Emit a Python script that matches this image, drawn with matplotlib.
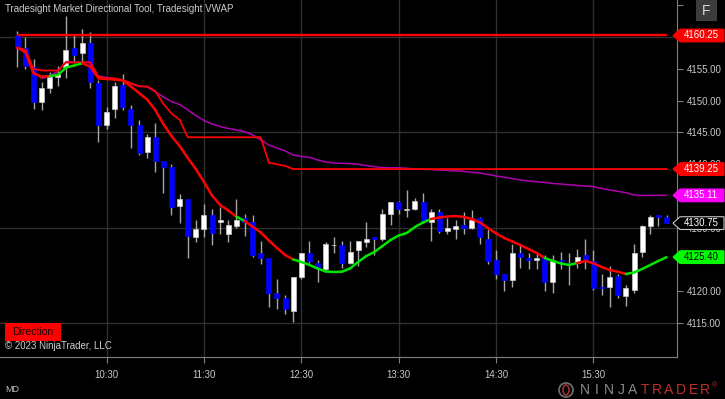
import numpy as np
import pandas as pd
import matplotlib
matplotlib.use("Agg")
import matplotlib.pyplot as plt
import matplotlib.transforms as mtransforms
from matplotlib.collections import LineCollection
from matplotlib.patches import Polygon, Rectangle, Ellipse

plt.rcParams['font.family'] = ['Liberation Sans', 'DejaVu Sans']

# ---------------- data (5 minute bars, 09:35 .. 16:15) ----------------
bar_times = pd.date_range("2023-01-01 09:35", "2023-01-01 16:15", freq="5min").strftime("%H:%M").tolist()
time_ticks = ["10:30", "11:30", "12:30", "13:30", "14:30", "15:30"]

opens = [4160.25, 4158.25, 4155.25, 4149.75, 4152.0, 4153.75, 4155.25, 4158.25, 4157.5, 4159.0,
         4152.75, 4146.25, 4148.75, 4152.5, 4148.75, 4146.25, 4142.0, 4144.25, 4140.5, 4139.5,
         4133.5, 4134.5, 4128.5, 4129.75, 4132.0, 4131.0, 4129.0, 4130.25, 4131.5, 4131.0,
         4126.0, 4125.25, 4119.75, 4119.0, 4117.0, 4122.25, 4126.0, 4124.5, 4123.5, 4127.25,
         4127.25, 4124.5, 4126.5, 4127.75, 4128.5, 4128.25, 4132.25, 4134.0, 4132.75, 4133.0,
         4134.0, 4131.0, 4132.5, 4129.5, 4129.75, 4130.5, 4130.0, 4131.5, 4128.25, 4125.0,
         4122.75, 4121.75, 4126.0, 4125.25, 4125.0, 4125.25, 4121.5, 4125.0, 4124.5, 4124.5,
         4125.75, 4124.75, 4120.75, 4120.75, 4122.5, 4119.25, 4120.25, 4126.25, 4130.25, 4132.0,
         4131.75]
highs = [4161.0, 4160.0, 4156.5, 4153.0, 4154.5, 4155.5, 4163.25, 4160.25, 4161.25, 4160.75,
         4153.25, 4149.0, 4153.0, 4154.25, 4149.25, 4147.0, 4144.75, 4146.5, 4140.5, 4140.0,
         4135.25, 4134.5, 4131.25, 4133.75, 4133.0, 4133.25, 4131.25, 4134.5, 4132.25, 4132.0,
         4128.0, 4125.25, 4122.0, 4119.5, 4122.25, 4126.0, 4128.0, 4125.0, 4127.75, 4128.5,
         4128.0, 4128.0, 4128.0, 4131.0, 4128.5, 4133.0, 4134.0, 4134.25, 4136.0, 4134.75,
         4135.5, 4133.0, 4133.0, 4131.5, 4131.25, 4132.5, 4132.75, 4131.75, 4129.75, 4126.5,
         4122.75, 4127.5, 4127.25, 4126.0, 4126.25, 4125.75, 4125.75, 4126.25, 4126.0, 4126.75,
         4128.25, 4126.5, 4122.75, 4124.0, 4122.75, 4121.0, 4127.5, 4130.5, 4132.0, 4132.0,
         4132.0]
lows = [4155.25, 4155.0, 4148.75, 4148.5, 4151.25, 4152.25, 4153.5, 4156.0, 4156.0, 4152.0,
        4143.5, 4145.5, 4147.25, 4148.5, 4142.5, 4141.5, 4141.0, 4138.75, 4135.5, 4132.0,
        4130.75, 4125.25, 4127.75, 4128.5, 4127.25, 4129.0, 4127.75, 4130.0, 4128.75, 4125.5,
        4124.25, 4117.5, 4117.25, 4116.5, 4115.25, 4122.0, 4124.5, 4121.5, 4123.25, 4126.0,
        4123.75, 4124.25, 4124.0, 4127.0, 4125.75, 4128.0, 4130.5, 4132.25, 4131.75, 4132.75,
        4130.75, 4128.0, 4129.25, 4129.0, 4128.25, 4129.0, 4129.75, 4127.5, 4124.25, 4122.0,
        4120.0, 4120.75, 4123.75, 4123.5, 4123.5, 4120.0, 4119.75, 4123.5, 4121.0, 4123.75,
        4123.5, 4120.25, 4119.5, 4117.5, 4119.0, 4117.75, 4119.75, 4125.5, 4129.0, 4130.25,
        4130.75]
closes = [4158.25, 4155.5, 4149.75, 4152.0, 4153.75, 4154.25, 4158.0, 4157.25, 4159.0, 4153.0,
          4146.25, 4148.25, 4152.25, 4149.0, 4146.25, 4141.75, 4144.25, 4140.5, 4139.5, 4133.25,
          4134.5, 4128.75, 4129.75, 4132.0, 4129.25, 4131.25, 4130.5, 4131.25, 4131.0, 4125.75,
          4125.25, 4119.75, 4119.0, 4117.25, 4122.25, 4126.0, 4124.75, 4123.75, 4127.5, 4127.25,
          4124.5, 4126.25, 4128.0, 4128.25, 4128.25, 4132.25, 4134.0, 4133.0, 4133.0, 4134.25,
          4131.0, 4132.5, 4129.5, 4130.0, 4130.25, 4130.0, 4131.25, 4128.5, 4124.75, 4122.75,
          4121.75, 4126.0, 4125.5, 4125.0, 4125.25, 4121.5, 4125.0, 4124.75, 4124.25, 4125.5,
          4124.75, 4120.5, 4120.5, 4122.25, 4119.5, 4120.5, 4126.0, 4130.25, 4131.75, 4131.75,
          4130.75]

# Tradesight directional line and its trend state (1 = up / green, -1 = down / red)
direction_line = [4158.33, 4157.70, 4154.31, 4153.77, 4153.88, 4154.04, 4155.19, 4155.53, 4155.88, 4155.34,
                  4153.52, 4153.41, 4153.33, 4153.17, 4152.23, 4151.21, 4150.19, 4148.54, 4146.34, 4144.45,
                  4142.88, 4140.99, 4139.26, 4137.22, 4135.09, 4133.60, 4132.74, 4131.76, 4131.08, 4130.19,
                  4129.28, 4128.02, 4126.84, 4125.74, 4125.03, 4124.64, 4124.17, 4123.62, 4123.14, 4123.07,
                  4123.11, 4123.62, 4124.64, 4125.58, 4126.21, 4127.15, 4128.10, 4128.80, 4129.20, 4130.14,
                  4130.85, 4131.40, 4131.63, 4131.79, 4131.87, 4131.71, 4131.40, 4130.85, 4129.98, 4129.12,
                  4128.41, 4127.86, 4127.31, 4126.68, 4126.05, 4125.27, 4124.80, 4124.40, 4124.17, 4124.48,
                  4124.80, 4124.43, 4123.85, 4123.38, 4123.11, 4122.75, 4122.99, 4123.54, 4124.17, 4124.80,
                  4125.40]
trend = ([-1, -1, -1, -1, -1, 1, 1, 1, 1, -1]
         + [-1] * 10
         + [-1] * 8 + [1, -1]
         + [-1] * 5 + [1] * 5
         + [1] * 10
         + [1, 1] + [-1] * 8
         + [-1] * 6 + [1] * 4
         + [-1] * 6 + [1] * 4
         + [1])

stop_line = ([4158.33, 4158.0, 4155.0, 4154.75, 4154.75, 4154.75, 4156.0, 4156.0, 4156.0, 4156.0,
              4153.75, 4153.5, 4153.5, 4153.25, 4152.75, 4152.25, 4152.25, 4151.5, 4149.5, 4148.0,
              4147.0] + [4144.25] * 10 + [4140.25, 4140.0, 4139.75] + [4139.25] * 47)

vwap = [4158.33, 4157.45, 4154.56, 4153.52, 4153.93, 4154.56, 4156.13, 4156.08, 4156.04, 4156.04,
        4153.88, 4153.65, 4153.49, 4153.25, 4152.63, 4152.31, 4152.15, 4151.41, 4150.58, 4149.87,
        4149.40, 4148.54, 4147.67, 4146.89, 4146.34, 4145.94, 4145.63, 4145.39, 4145.16, 4144.61,
        4143.82, 4143.03, 4142.56, 4142.09, 4141.46, 4141.23, 4141.10, 4140.68, 4140.36, 4140.20,
        4140.16, 4140.09, 4140.00, 4139.81, 4139.61, 4139.50, 4139.46, 4139.45, 4139.37, 4139.26,
        4139.21, 4139.18, 4139.10, 4139.05, 4138.99, 4138.87, 4138.74, 4138.63, 4138.40, 4138.16,
        4137.96, 4137.77, 4137.53, 4137.37, 4137.26, 4137.14, 4136.98, 4136.90, 4136.78, 4136.67,
        4136.59, 4136.48, 4136.19, 4135.96, 4135.75, 4135.53, 4135.17, 4135.09, 4135.11, 4135.11,
        4135.11]

open_level = 4160.25
price_ticks = [4115.0, 4120.0, 4125.0, 4130.0, 4135.0, 4140.0, 4145.0, 4150.0, 4155.0, 4160.0, 4165.0]
hidden_ticks = [4125.0, 4135.0, 4160.0, 4165.0]   # covered by the price flags / cut at the top
grid_levels = [4115.0, 4130.0, 4145.0, 4160.0]

# ---------------- figure ----------------
W, H = 725, 399
fig = plt.figure(figsize=(W / 100, H / 100), dpi=100, facecolor="black")
ax = fig.add_axes([0, 42 / H, 677 / W, 357 / H], facecolor="black")

x = np.arange(len(opens))
o = np.array(opens)
c = np.array(closes)
up = c >= o

# grid
ax.set_axisbelow(True)
for lvl in grid_levels:
    ax.axhline(lvl, color="#2f2f2f", lw=1, zorder=0)

# candles
ax.vlines(x, lows, highs, color="#a8a8a8", lw=1, zorder=2)
ax.bar(x, np.maximum(np.abs(c - o), 0.12), bottom=np.minimum(o, c), width=0.62,
       color=np.where(up, "white", "#0000ff"), edgecolor=np.where(up, "#c8c8c8", "#0000ff"),
       linewidth=0.5, zorder=3)

# indicators
ax.plot(x, vwap, color="#b000b0", lw=1.1, zorder=4)
ax.plot(x, stop_line, color="#ff0000", lw=1.3, zorder=5)
ax.hlines(open_level, x[0], x[-1], color="#ff0000", lw=1.7, zorder=5)

pts = np.column_stack([x, direction_line])
segs = np.stack([pts[:-1], pts[1:]], axis=1)
seg_colors = ["#00e400" if t > 0 else "#ff0000" for t in trend[1:]]
ax.add_collection(LineCollection(segs, colors=seg_colors, linewidths=1.8, zorder=6, capstyle="round"))

# axes
ax.set_xlim(-2.13, 81.29)
ax.set_ylim(4109.70, 4165.83)
ax.yaxis.tick_right()
ax.set_yticks(price_ticks)
ax.set_yticklabels(["" if p in hidden_ticks else "%.2f" % p for p in price_ticks])
ax.set_xticks([bar_times.index(t) for t in time_ticks])
ax.set_xticklabels(time_ticks)
ax.grid(axis="x", color="#2f2f2f", lw=1)
for side in ["top", "left"]:
    ax.spines[side].set_visible(False)
for side in ["right", "bottom"]:
    ax.spines[side].set_color("#808080")
ax.tick_params(axis="both", colors="#808080", labelcolor="#c8c8c8", labelsize=7, length=4)
ax.tick_params(axis="y", pad=3)
ax.tick_params(axis="x", pad=5)

# price flags on the right axis
blend = mtransforms.blended_transform_factory(fig.transFigure, ax.transData)
half = 1.0
flags = [(open_level, "#ff0000", "#ff0000", "white"),
         (stop_line[-1], "#ff0000", "#ff0000", "white"),
         (vwap[-1], "#ff00ff", "#ff00ff", "white"),
         (closes[-1], "black", "#c8c8c8", "white"),
         (direction_line[-1], "#00ff00", "#00ff00", "black")]
for val, fc, ec, tc in flags:
    poly = Polygon([(673 / W, val), (680 / W, val + half), (724 / W, val + half),
                    (724 / W, val - half), (680 / W, val - half)],
                   closed=True, transform=blend, facecolor=fc, edgecolor=ec, lw=0.8, zorder=10)
    fig.add_artist(poly)
    fig.text(684 / W, val, "%.2f" % val, transform=blend, color=tc, fontsize=7,
             ha="left", va="center", zorder=11)

# texts
fig.text(5 / W, 1 - 9 / H, "Tradesight Market Directional Tool, Tradesight VWAP",
         color="#c8ccd2", fontsize=7, ha="left", va="center")
fig.add_artist(Rectangle((5 / W, 1 - 341 / H), 56 / W, 18 / H, transform=fig.transFigure,
                         facecolor="#ff0000", edgecolor="none", zorder=10))
fig.text(33 / W, 1 - 332 / H, "Direction", color="#1a0000", fontsize=7.5, ha="center", va="center", zorder=11)
fig.text(5 / W, 1 - 346 / H, "\u00a9 2023 NinjaTrader, LLC", color="#d0d0d0", fontsize=7,
         ha="left", va="center")
fig.text(5 / W, 1 - 390 / H, "MD", color="#c0c0c0", fontsize=6.5, ha="left", va="center")

# F button
fig.add_artist(Rectangle((696 / W, 1 - 21 / H), 21 / W, 21 / H, transform=fig.transFigure,
                         facecolor="#3c3c3c", edgecolor="none", zorder=10))
fig.text(706.5 / W, 1 - 11 / H, "F", color="#d8d8d8", fontsize=10, ha="center", va="center", zorder=11)

# NinjaTrader logo
fig.add_artist(Ellipse((566 / W, 1 - 390 / H), 14 / W, 14 / H, transform=fig.transFigure,
                       facecolor="none", edgecolor="#707070", lw=1.2))
fig.add_artist(Ellipse((566 / W, 1 - 390 / H), 6 / W, 10 / H, transform=fig.transFigure,
                       facecolor="none", edgecolor="#a03030", lw=1.2))
for k, ch in enumerate("NINJATRADER"):
    fig.text((585 + 12.0 * k) / W, 1 - 390 / H, ch, color="#8a8a8a" if k < 5 else "#c0302a",
             fontsize=10, ha="center", va="center")
fig.text(712 / W, 1 - 386 / H, "\u00ae", color="#c0302a", fontsize=5, ha="left", va="center")

fig.savefig("out.png", dpi=100, facecolor="black")
